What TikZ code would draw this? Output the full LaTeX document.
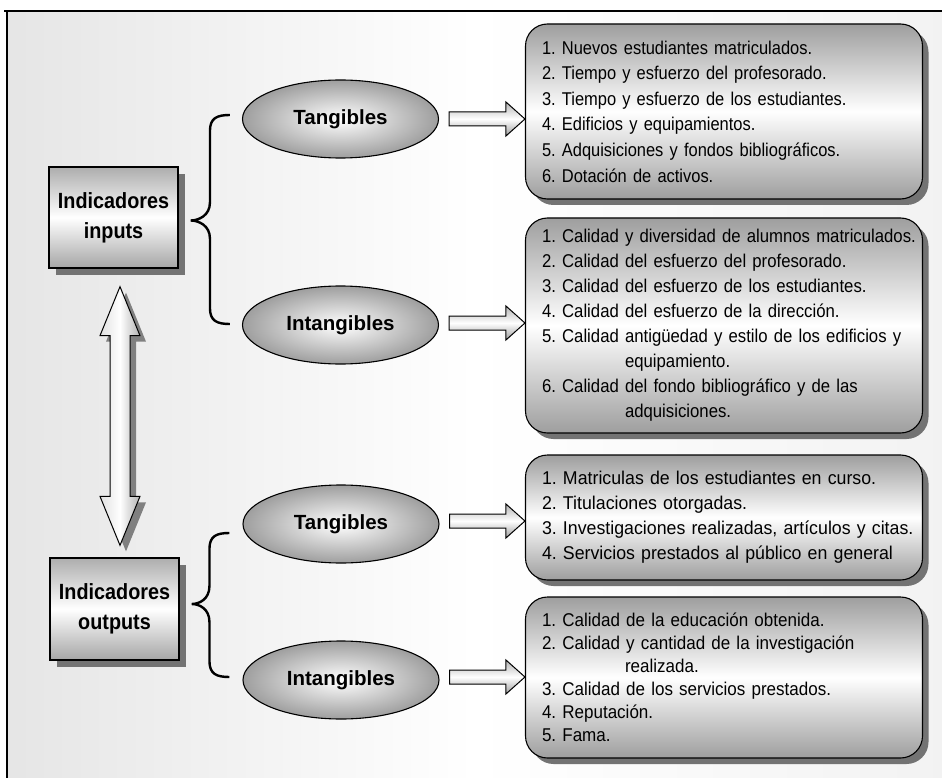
\documentclass[tikz,border=0pt]{standalone}
\usepackage{fontspec}
\setmainfont{Liberation Sans}
\newfontfamily\fboxa[FakeStretch=0.89]{Liberation Sans}
\newfontfamily\fboxb[FakeStretch=0.905]{Liberation Sans}
\newfontfamily\fboxc[FakeStretch=0.96]{Liberation Sans}
\newfontfamily\fboxd[FakeStretch=0.92]{Liberation Sans}
\newfontfamily\fleft[FakeStretch=0.9]{Liberation Sans}
\usetikzlibrary{shapes.geometric,shadows,calc}
\frenchspacing
\newcommand\li[1]{\mbox{#1}}
\tikzset{
  mainbox/.style={draw=black, line width=1.3pt, minimum width=129pt, minimum height=101pt,
    inner sep=0pt, align=center, font=\fleft\bfseries\fontsize{22}{30}\selectfont,
    top color=black!32, bottom color=black!35, middle color=white,
    drop shadow={shadow xshift=7pt, shadow yshift=-7pt, fill=black!55, opacity=1}},
  oval/.style={ellipse, draw=black, line width=1.1pt, minimum width=196pt, minimum height=78pt,
    inner sep=0pt, font=\bfseries\fontsize{20.5}{24}\selectfont,
    inner color=white, outer color=black!38},
  listbox/.style={draw=black, line width=1.1pt, rounded corners=22pt, minimum width=397pt,
    text width=364pt, inner xsep=16.5pt, inner ysep=0pt, align=left,
    top color=black!38, bottom color=black!38, middle color=white,
    drop shadow={shadow xshift=6pt, shadow yshift=-6pt, fill=black!55, opacity=1}},
  blockarrow/.style={draw=black, line width=1pt, top color=black!30, bottom color=black!38, middle color=white},
  dblarrow/.style={draw=black, line width=1pt, left color=black!12, right color=black!30, middle color=white,
    drop shadow={shadow xshift=6pt, shadow yshift=-6pt, fill=black!50, opacity=1}},
  bracestyle/.style={draw=black, line width=2.4pt}
}
\newcommand\harrow[2]{%
  \path[blockarrow] let \p1=(#1), \p2=(#2) in
    (\x1,\y1+7pt) -- (\x2-19pt,\y1+7pt) -- (\x2-19pt,\y1+17pt) -- (\x2,\y1)
    -- (\x2-19pt,\y1-17pt) -- (\x2-19pt,\y1-7pt) -- (\x1,\y1-7pt) -- cycle;}
\newcommand\cbrace[3]{%
  \draw[bracestyle] let \p1=(#1), \p2=(#2), \p3=(#3) in
    (\x1,\y1) .. controls (\x1-13pt,\y1) and (\x1-20pt,\y1-3pt) .. (\x1-20pt,\y1-16pt)
    -- (\x1-20pt,\y3+18pt) .. controls (\x1-20pt,\y3+5pt) and (\x3+8pt,\y3) .. (\x3,\y3)
    .. controls (\x3+8pt,\y3) and (\x1-20pt,\y3-5pt) .. (\x1-20pt,\y3-18pt)
    -- (\x2-20pt,\y2+16pt) .. controls (\x2-20pt,\y2+3pt) and (\x2-13pt,\y2) .. (\x2,\y2);}
\begin{document}
\begin{tikzpicture}[x=1pt,y=-1pt]
\useasboundingbox (0,0) rectangle (942,778);
\fill[white] (0,0) rectangle (942,778);
\shade[left color=black!10, right color=black!5, middle color=white] (7,11) rectangle (942,778);
\draw[line width=1.8pt] (4,11) -- (942,11);
\draw[line width=1.4pt] (7,11) -- (7,778);

% left boxes
\node[mainbox] (in) at (113.5,217.5) {Indicadores\\inputs};
\node[mainbox, minimum height=102pt] (out) at (114.5,609) {Indicadores\\outputs};

% ellipses
\node[oval] (e1) at (340.5,119) {Tangibles};
\node[oval] (e2) at (340.5,325) {Intangibles};
\node[oval] (e3) at (341,524) {Tangibles};
\node[oval] (e4) at (341,680) {Intangibles};

% right boxes
\node[listbox, minimum height=175pt, font=\fboxa\fontsize{18.5}{25.6}\selectfont] (b1) at (724,111.5) {%
\li{1. Nuevos estudiantes matriculados.}\\
\li{2. Tiempo y esfuerzo del profesorado.}\\
\li{3. Tiempo y esfuerzo de los estudiantes.}\\
\li{4. Edificios y equipamientos.}\\
\li{5. Adquisiciones y fondos bibliográficos.}\\
\li{6. Dotación de activos.}};
\node[listbox, minimum height=215pt, font=\fboxb\fontsize{18.5}{25}\selectfont] (b2) at (724,325.5) {%
\li{1. Calidad y diversidad de alumnos matriculados.}\\
\li{2. Calidad del esfuerzo del profesorado.}\\
\li{3. Calidad del esfuerzo de los estudiantes.}\\
\li{4. Calidad del esfuerzo de la dirección.}\\
\li{5. Calidad antigüedad y estilo de los edificios y}\\
\hspace*{83pt}\li{equipamiento.}\\
\li{6. Calidad del fondo bibliográfico y de las}\\
\hspace*{83pt}\li{adquisiciones.}};
\node[listbox, minimum height=125pt, font=\fboxc\fontsize{18.5}{25}\selectfont] (b3) at (724,517.5) {%
\li{1. Matriculas de los estudiantes en curso.}\\
\li{2. Titulaciones otorgadas.}\\
\li{3. Investigaciones realizadas, artículos y citas.}\\
\li{4. Servicios prestados al público en general}};
\node[listbox, minimum height=161pt, font=\fboxd\fontsize{18.5}{23}\selectfont] (b4) at (724,677.5) {%
\li{1. Calidad de la educación obtenida.}\\
\li{2. Calidad y cantidad de la investigación}\\
\hspace*{83pt}\li{realizada.}\\
\li{3. Calidad de los servicios prestados.}\\
\li{4. Reputación.}\\
\li{5. Fama.}};

% block arrows ellipse -> box
\coordinate (a1s) at ($(e1.east)+(10,0)$);
\coordinate (a1e) at (e1.east -| b1.west);
\harrow{a1s}{a1e}
\coordinate (a2s) at ($(e2.east)+(10,-2)$);
\coordinate (a2e) at ($(e2.east -| b2.west)+(0,-2)$);
\harrow{a2s}{a2e}
\coordinate (a3s) at ($(e3.east)+(10,-3)$);
\coordinate (a3e) at ($(e3.east -| b3.west)+(0,-3)$);
\harrow{a3s}{a3e}
\coordinate (a4s) at ($(e4.east)+(10,-3)$);
\coordinate (a4e) at ($(e4.east -| b4.west)+(0,-3)$);
\harrow{a4s}{a4e}

% braces
\coordinate (br1t) at ($(e1.west)+(-12,-4)$);
\coordinate (br1b) at ($(e2.west)+(-12,-1)$);
\coordinate (br1m) at ($(in.east)+(12,3)$);
\cbrace{br1t}{br1b}{br1m}
\coordinate (br2t) at ($(e3.west)+(-13,9)$);
\coordinate (br2b) at ($(e4.west)+(-13,-3)$);
\coordinate (br2m) at ($(out.east)+(12,-5)$);
\cbrace{br2t}{br2b}{br2m}

% double vertical arrow
\coordinate (dt) at ($(in.south)+(6.5,18)$);
\coordinate (db) at ($(out.north)+(5.5,-12)$);
\path[dblarrow] let \p1=(dt), \p2=(db) in
  (\x1,\y1) -- (\x1+20pt,\y1-49pt) -- (\x1+10pt,\y1-49pt) -- (\x2+10pt,\y2+49pt)
  -- (\x2+20pt,\y2+49pt) -- (\x2,\y2) -- (\x2-20pt,\y2+49pt) -- (\x2-10pt,\y2+49pt)
  -- (\x1-10pt,\y1-49pt) -- (\x1-20pt,\y1-49pt) -- cycle;
\end{tikzpicture}
\end{document}
